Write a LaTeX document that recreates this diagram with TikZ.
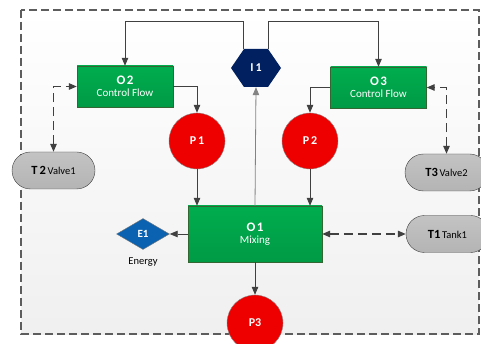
\documentclass[tikz,border=0pt]{standalone}
\usepackage{fontspec}
\setmainfont{Carlito}
\usetikzlibrary{shapes.geometric,shapes.misc,arrows.meta}

\definecolor{boxgreen}{HTML}{00AD4E}
\definecolor{boxgreendark}{HTML}{009A45}
\definecolor{portred}{HTML}{EE0000}
\definecolor{hexnavy}{HTML}{00205F}
\definecolor{energyblue}{HTML}{0A62B0}
\definecolor{tankgray}{HTML}{B4B4B4}
\definecolor{linegray}{HTML}{404040}

\tikzset{
  opbox/.style={rectangle, draw=linegray!80!green, top color=boxgreen, bottom color=boxgreendark,
    minimum width=96pt, minimum height=41pt, inner sep=0pt, align=center, text=white},
  portcircle/.style={circle, draw=linegray!60, fill=portred, minimum size=56pt, inner sep=0pt,
    text=white, font=\bfseries\fontsize{12}{14}\selectfont},
  tankpill/.style={rounded rectangle, draw=linegray, top color=tankgray!80, bottom color=tankgray,
    minimum width=83pt, minimum height=37pt, inner sep=0pt},
  flow/.style={draw=linegray, line width=0.8pt, -{Triangle[length=8pt,width=6.5pt]}},
  link/.style={draw=linegray, line width=1.2pt, dashed, dash pattern=on 9pt off 5pt,
    {Triangle[length=8pt,width=6.5pt]}-{Triangle[length=8pt,width=6.5pt]}},
}

\newcommand{\optitle}[2]{{\bfseries\fontsize{13}{15}\selectfont\addfontfeature{LetterSpace=12}#1}\\[0pt]{\fontsize{11}{13}\selectfont #2}}
\newcommand{\tanklabel}[2]{{\bfseries\fontsize{12.5}{14}\selectfont #1}\,{\fontsize{10.5}{12}\selectfont #2}}

\begin{document}
\begin{tikzpicture}[x=1pt,y=-1pt]
        \useasboundingbox (0,0) rectangle (481,344);

        % Draw the dashed frame round the process
        \shade[top color=white, bottom color=black!6] (21,10) rectangle (479,334);
        \draw[linegray!85, line width=1.2pt, dash pattern=on 8pt off 4pt] (21,10) rectangle (479,334);

        % Draw the operations
        \node[opbox] (o2) at (125,86.5) {\optitle{O2}{Control Flow}};
        \node[opbox] (o3) at (378.5,87.5) {\optitle{O3}{Control Flow}};
        \node[opbox, minimum width=134pt, minimum height=56pt] (o1) at (255,234) {\optitle{O1}{Mixing}};

        % Draw the information node
        \node[minimum width=50pt, minimum height=38pt, inner sep=0pt, text=white,
          font=\bfseries\fontsize{12}{14}\selectfont,
          path picture={\fill[hexnavy] (path picture bounding box.west) -- ++(13,-19) -- ++(24,0)
            -- (path picture bounding box.east) -- ++(-13,19) -- ++(-24,0) -- cycle;}] (i1) at (256,68) {I\,1};

        % Draw the ports
        \node[portcircle] (p1) at (197,141) {P\,1};
        \node[portcircle] (p2) at (310,141) {P\,2};
        \node[portcircle] (p3) at (255,323) {P3};

        % Draw the energy and the tanks
        \node[diamond, draw=linegray!70, fill=energyblue, minimum width=53pt, minimum height=31pt,
          inner sep=0pt, aspect=1.7, text=white, font=\bfseries\fontsize{11}{13}\selectfont] (e1) at (143,234) {E1};
        \node[font=\fontsize{10.5}{12}\selectfont] (energy) at (143,262) {Energy};
        \node[tankpill] (t2) at (53.5,170.5) {\tanklabel{T\,2}{Valve1}};
        \node[tankpill] (t3) at (446.5,172.5) {\tanklabel{T3}{Valve2}};
        \node[tankpill] (t1) at (447.5,234) {\tanklabel{T1}{Tank1}};

        % Draw the flows
        \path[flow] (i1.north west) ++(13,0) coordinate (i1nw) -- (i1nw |- 0,21) -| (o2.north);
        \path[flow] (i1.north east) ++(-13,0) coordinate (i1ne) -- (i1ne |- 0,21) -| (o3.north);
        \path[flow] (o2.east) -| (p1.north);
        \path[flow] (o3.west) -| (p2.north);
        \path[flow] (p1.south) -- (p1.south |- o1.north);
        \path[flow] (p2.south) -- (p2.south |- o1.north);
        \path[flow, draw=linegray!65] (o1.north) -- (i1.south);
        \path[flow] (o1.west) -- (e1.east);
        \path[flow] (o1.south) -- (p3.north);

        % Draw the links to the tanks
        \path[link] (t2.north) |- (o2.west);
        \path[link] (t3.north) |- (o3.east);
        \path[link] (o1.east) -- (t1.west);
    \end{tikzpicture}
\end{document}
